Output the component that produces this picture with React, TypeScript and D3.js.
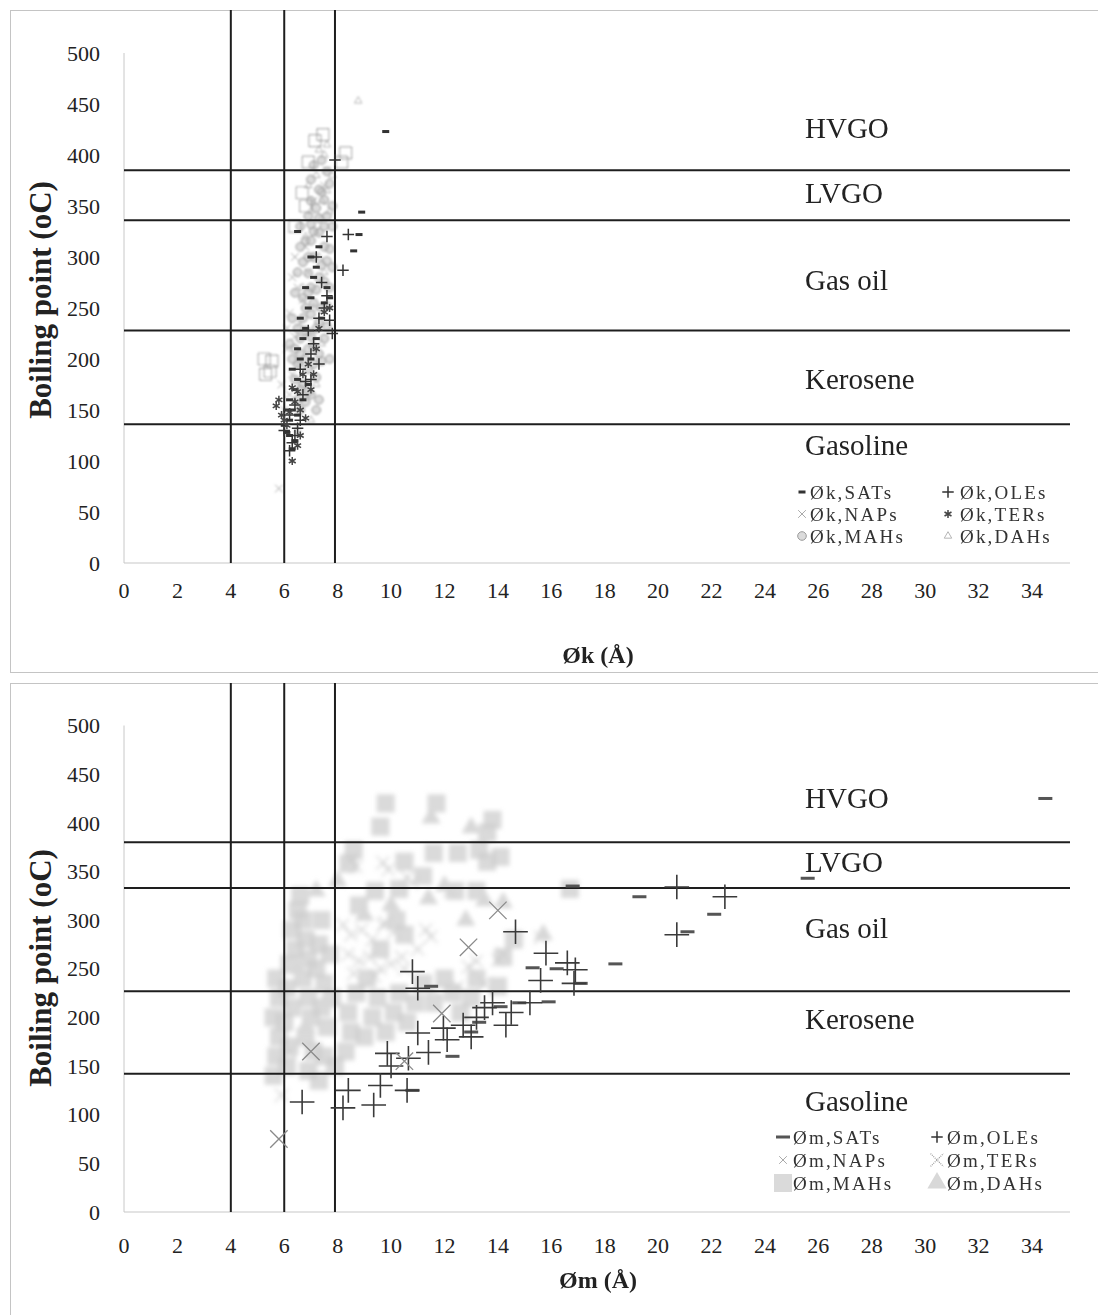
import React from "react";
import * as d3 from "d3";

type Pt = [number, number];
type Kind =
  | "dashS" | "plusS" | "timesS" | "asterS" | "circleS" | "triS" | "boxS"
  | "dashL" | "plusL" | "timesL" | "dotX" | "squareF" | "triF";

// ---------- shared axis values ----------
const xTickValues = [0, 2, 4, 6, 8, 10, 12, 14, 16, 18, 20, 22, 24, 26, 28, 30, 32, 34];
const yTickValues = [0, 50, 100, 150, 200, 250, 300, 350, 400, 450, 500];
const zoneNames = ["HVGO", "LVGO", "Gas oil", "Kerosene", "Gasoline"];
const diameterGuides = [4, 6, 7.9];

// ---------- Øk panel (kinetic diameter) ----------
const okZoneBounds = [385, 336, 228, 136];
const okZoneLabelY = [427, 363, 278, 181, 116];

const okSATs: Pt[] = [
  [6.0, 135], [6.1, 128], [6.2, 140], [6.3, 150], [6.2, 160], [6.4, 170], [6.5, 180], [6.3, 190],
  [6.6, 200], [6.5, 210], [6.7, 220], [6.8, 230], [6.6, 240], [6.9, 250], [7.0, 260], [6.8, 270],
  [7.1, 280], [7.2, 290], [7.0, 300], [7.3, 310], [6.5, 325], [7.4, 240], [7.5, 255], [7.2, 220],
  [7.0, 200], [6.9, 175], [6.7, 160], [6.5, 145], [6.4, 120], [6.3, 112], [8.6, 306], [8.8, 322],
  [8.9, 344], [9.8, 423], [7.6, 270], [7.7, 260], [6.1, 150], [6.2, 125],
];
const okOLEs: Pt[] = [
  [6.2, 110], [6.3, 118], [6.4, 125], [6.5, 132], [6.6, 140], [6.4, 155], [6.7, 165], [6.8, 178],
  [6.6, 190], [7.0, 205], [7.1, 215], [6.9, 228], [7.3, 240], [7.5, 250], [7.6, 262], [7.8, 225],
  [7.7, 238], [8.2, 287], [8.4, 322], [7.4, 275], [7.2, 300], [7.9, 395], [6.2, 145], [6.0, 130],
  [7.6, 320], [7.0, 180], [7.3, 195],
];
const okNAPs: Pt[] = [
  [5.8, 73], [6.0, 150], [6.2, 165], [5.9, 175], [6.3, 185], [6.5, 198], [6.1, 210], [6.4, 222],
  [6.6, 235], [6.2, 245], [6.7, 258], [6.5, 270], [6.9, 285], [7.0, 298], [6.8, 310], [7.2, 325],
  [7.4, 340], [7.1, 355], [7.5, 370], [6.4, 300], [6.3, 280], [7.6, 385], [6.1, 230],
];
const okTERs: Pt[] = [
  [5.7, 154], [5.8, 160], [5.9, 145], [6.0, 140], [6.1, 135], [6.2, 148], [6.4, 158], [6.5, 168],
  [6.6, 150], [6.3, 172], [6.7, 185], [6.9, 195], [7.0, 170], [6.8, 142], [6.5, 115], [6.3, 100],
  [6.6, 125], [7.1, 185], [7.3, 230], [7.5, 246], [7.7, 250], [7.2, 210],
];
const okMAHs: Pt[] = [
  [6.6, 150], [6.8, 158], [7.0, 165], [6.7, 175], [7.2, 182], [6.9, 190], [7.4, 198], [6.6, 205],
  [7.1, 212], [7.5, 220], [6.8, 228], [7.3, 236], [7.0, 244], [7.6, 252], [6.7, 260], [7.2, 268],
  [7.5, 276], [6.9, 284], [7.4, 292], [7.1, 300], [7.7, 308], [6.8, 316], [7.3, 324], [7.0, 332],
  [7.6, 340], [7.2, 348], [7.5, 356], [7.4, 364], [7.7, 372], [6.5, 285], [6.6, 310], [6.9, 340],
  [7.8, 330], [7.8, 290], [6.7, 240], [7.7, 200], [7.3, 160], [6.5, 195], [7.0, 376], [7.5, 310],
  [6.4, 265], [6.3, 240], [6.2, 215], [6.4, 180], [7.6, 232], [6.6, 330], [7.1, 255], [6.9, 210],
  [6.5, 230], [6.8, 250], [7.0, 270], [7.3, 280], [7.6, 296], [6.7, 295], [7.0, 316], [7.3, 338],
  [7.0, 355], [7.3, 366], [7.6, 384], [7.1, 390], [6.9, 300], [7.4, 250], [7.7, 270], [7.2, 230],
  [6.9, 265], [7.1, 325], [7.5, 330], [6.4, 210], [6.6, 220], [7.0, 222], [7.3, 205], [6.8, 200],
  [7.1, 195], [6.6, 170], [6.9, 168], [7.2, 150], [6.5, 160], [6.3, 200], [7.8, 350], [7.4, 395],
];
// wider MAHs molecules plotted with the open box symbol
const okMAHsBox: Pt[] = [
  [6.9, 393], [7.15, 414], [7.45, 420], [8.3, 402], [8.15, 393], [6.67, 363], [6.4, 330],
  [5.47, 188], [5.54, 198], [5.3, 185], [5.25, 200], [6.8, 350],
];
const okDAHs: Pt[] = [
  [8.77, 453], [7.5, 400], [7.2, 380], [6.9, 370], [7.4, 355], [7.0, 345], [7.6, 365], [6.8, 320],
  [7.3, 300], [6.7, 270], [7.5, 285], [7.1, 250], [6.9, 225], [7.4, 215], [6.6, 195], [7.2, 175],
  [6.8, 162], [7.0, 140], [6.5, 130], [7.7, 345], [7.8, 380], [7.6, 410], [7.3, 405],
];

// ---------- Øm panel (minimum diameter) ----------
const omZoneBounds = [380, 333, 227, 142];
const omZoneLabelY = [426, 360, 292, 198, 114];

const omSATs: Pt[] = [
  [19.3, 324], [22.1, 306], [21.1, 288], [18.4, 255], [16.2, 250], [17.1, 235], [15.9, 216],
  [14.1, 211], [13.0, 185], [14.8, 215], [12.3, 160], [10.8, 125], [34.5, 425], [25.6, 343],
  [16.8, 335], [11.5, 232], [13.3, 195], [15.3, 251],
];
const omOLEs: Pt[] = [
  [6.67, 113], [8.2, 107], [8.4, 125], [9.35, 110], [9.6, 130], [9.86, 163], [10.0, 150],
  [10.65, 158], [10.6, 125], [11.0, 184], [11.4, 164], [11.96, 189], [12.1, 177], [12.7, 192],
  [13.2, 200], [13.0, 180], [13.5, 210], [13.8, 215], [14.3, 192], [14.5, 205], [14.66, 288],
  [15.6, 238], [15.8, 266], [16.6, 256], [16.85, 235], [16.9, 249], [20.7, 334], [20.7, 285],
  [22.5, 324], [10.8, 247], [11.0, 230], [15.2, 215],
];
const omNAPs: Pt[] = [
  [5.8, 75], [12.9, 272], [11.9, 204], [14.0, 310], [10.5, 155], [7.0, 165],
];
const omTERs: Pt[] = [
  [8.2, 295], [8.5, 285], [8.9, 290], [9.3, 280], [9.7, 295], [10.1, 288], [8.4, 265], [8.8, 258],
  [9.2, 262], [9.6, 250], [10.0, 255], [10.4, 262], [8.6, 245], [9.4, 242], [8.5, 362], [8.7, 355],
  [9.7, 359], [9.9, 352], [10.6, 344], [10.8, 338], [9.8, 297], [11.3, 290], [11.5, 283],
  [12.9, 252], [13.2, 258], [14.0, 259], [14.2, 265], [12.5, 232], [11.6, 228], [13.5, 235],
  [10.5, 250], [12.2, 330], [15.6, 282], [6.2, 165], [5.9, 120], [11.0, 270],
];
const omMAHs: Pt[] = [
  [5.6, 140], [5.7, 160], [5.8, 180], [5.6, 200], [5.8, 220], [5.7, 240], [6.1, 150], [6.2, 170],
  [6.0, 195], [6.3, 210], [6.1, 230], [6.2, 255], [6.4, 270], [6.3, 290], [6.5, 310], [6.6, 325],
  [6.7, 300], [6.8, 280], [6.9, 260], [6.7, 240], [6.9, 220], [7.0, 200], [6.8, 180], [7.1, 165],
  [6.9, 145], [7.3, 135], [7.2, 250], [7.3, 275], [7.4, 300], [7.5, 235], [7.4, 210], [7.6, 190],
  [7.5, 160], [7.8, 220], [7.7, 265], [7.9, 150],
  [8.3, 165], [8.5, 185], [8.4, 205], [8.7, 225], [9.0, 180], [9.3, 200], [9.5, 220], [9.1, 240],
  [9.8, 185], [10.1, 205], [10.3, 225], [10.6, 195], [10.9, 215], [11.2, 235], [11.6, 215],
  [12.0, 240], [12.3, 225], [9.6, 270], [10.2, 300], [10.5, 285], [8.8, 315], [9.4, 330],
  [8.6, 372], [8.4, 358], [9.6, 396], [9.8, 420], [10.5, 360], [11.2, 345], [11.7, 420],
  [11.6, 369], [12.5, 369], [13.3, 372], [13.6, 390], [13.8, 403], [13.6, 360], [14.1, 365],
  [12.4, 330], [13.2, 330], [14.6, 280], [14.2, 262], [16.7, 332], [10.3, 332], [14.0, 232],
  [13.2, 240], [12.6, 205], [13.0, 220],
];
const omDAHs: Pt[] = [
  [15.7, 285], [14.2, 318], [13.5, 320], [12.0, 335], [7.2, 330], [6.5, 250], [9.0, 305],
  [11.4, 322], [10.0, 315], [8.0, 340], [12.8, 300], [6.8, 190], [7.5, 215], [13.0, 395], [11.5, 405],
];

// ---------- drawing helpers ----------
const FONT = "'Liberation Serif', 'Times New Roman', serif";
const LINE = "#1e1e1e";

const symPath = (t: d3.SymbolType, size: number) => d3.symbol(t, size)() as string;

function Mark({ kind, x, y }: { kind: Kind; x: number; y: number }) {
  const t = `translate(${x},${y})`;
  switch (kind) {
    case "dashS":
      return <rect x={x - 3.5} y={y - 1.5} width={7} height={3} fill="#333" />;
    case "plusS":
      return <path transform={t} d={symPath(d3.symbolPlus, 45)} fill="none" stroke="#333" strokeWidth={1.5} />;
    case "timesS":
      return <path transform={t} d={symPath(d3.symbolTimes, 40)} fill="none" stroke="#aaa" strokeWidth={1} />;
    case "asterS":
      return <path transform={t} d={symPath(d3.symbolAsterisk, 45)} fill="none" stroke="#444" strokeWidth={1.5} />;
    case "circleS":
      return <circle cx={x} cy={y} r={4.3} fill="#bdbdbd" fillOpacity={0.55} stroke="#9a9a9a" strokeWidth={1} />;
    case "triS":
      return <path transform={t} d={symPath(d3.symbolTriangle2, 40)} fill="none" stroke="#b5b5b5" strokeWidth={1} />;
    case "boxS":
      return <rect x={x - 6} y={y - 6} width={12} height={12} fill="none" stroke="#8d8d8d" strokeWidth={1.2} strokeDasharray="2 1" />;
    case "dashL":
      return <rect x={x - 7} y={y - 1.5} width={14} height={3} fill="#555" />;
    case "plusL":
      return <path transform={t} d={symPath(d3.symbolPlus, 200)} fill="none" stroke="#3a3a3a" strokeWidth={1.6} />;
    case "timesL":
      return <path transform={t} d={symPath(d3.symbolTimes, 200)} fill="none" stroke="#8a8a8a" strokeWidth={1.3} />;
    case "dotX":
      return <path transform={t} d={symPath(d3.symbolTimes, 110)} fill="none" stroke="#9a9a9a" strokeWidth={1.2} strokeDasharray="1 1" />;
    case "squareF":
      return <rect x={x - 9} y={y - 9} width={18} height={18} fill="#cdcdcd" fillOpacity={0.75} />;
    case "triF":
      return <path transform={t} d={symPath(d3.symbolTriangle, 160)} fill="#d8d8d8" />;
  }
  return null;
}

type SeriesDef = { name: string; pts: Pt[]; kind: Kind; legendKind?: Kind; layer: "soft" | "front" };

interface PanelCfg {
  prefix: string;
  frameTop: number;
  frameBottom: number;
  y0: number;
  y500: number;
  xLabelY: number;
  xTitleY: number;
  yTitleY: number;
  bounds: number[];
  zoneLabelY: number[];
  series: SeriesDef[];
  extra: { pts: Pt[]; kind: Kind }[];
  legendCols: [number, number, number, number];
  legendRows: number[];
  blur: number;
}

function Panel({ cfg }: { cfg: PanelCfg }) {
  const x = d3.scaleLinear().domain([0, 34]).range([124, 1032]);
  const y = d3.scaleLinear().domain([0, 500]).range([cfg.y0, cfg.y500]);
  const xRight = 1070;
  const fid = `blur-${cfg.prefix}`;

  const softSeries = cfg.series.filter((s) => s.layer === "soft");
  const frontSeries = cfg.series.filter((s) => s.layer === "front");

  return (
    <g>
      <defs>
        <filter id={fid} x="-10%" y="-10%" width="120%" height="120%">
          <feGaussianBlur stdDeviation={cfg.blur} />
        </filter>
      </defs>
      {/* panel frame */}
      <rect x={10.5} y={cfg.frameTop + 0.5} width={1100} height={cfg.frameBottom - cfg.frameTop}
        fill="none" stroke="#c4c4c4" strokeWidth={1} />

      {/* axis lines */}
      <line x1={x(0)} x2={x(0)} y1={y(500)} y2={y(0)} stroke="#c8c8c8" strokeWidth={1} />
      <line x1={x(0)} x2={xRight} y1={y(0)} y2={y(0)} stroke="#c8c8c8" strokeWidth={1.2} />

      {/* tick labels */}
      {yTickValues.map((v) => (
        <text key={`yt${v}`} x={100} y={y(v)} dy="0.35em" textAnchor="end" fontFamily={FONT}
          fontSize={22} fill="#222">{v}</text>
      ))}
      {xTickValues.map((v) => (
        <text key={`xt${v}`} x={x(v)} y={cfg.xLabelY} dy="0.35em" textAnchor="middle" fontFamily={FONT}
          fontSize={22} fill="#222">{v}</text>
      ))}

      {/* soft (grey) series */}
      <g filter={`url(#${fid})`}>
        {softSeries.map((s) => s.pts.map((p, i) => <Mark key={`${s.name}${i}`} kind={s.kind} x={x(p[0])} y={y(p[1])} />))}
        {cfg.extra.map((e, j) => e.pts.map((p, i) => <Mark key={`ex${j}-${i}`} kind={e.kind} x={x(p[0])} y={y(p[1])} />))}
      </g>

      {/* boiling range boundaries */}
      {cfg.bounds.map((b) => (
        <line key={`hb${b}`} x1={x(0)} x2={xRight} y1={y(b)} y2={y(b)} stroke={LINE} strokeWidth={2} />
      ))}
      {/* diameter guides */}
      {diameterGuides.map((g) => (
        <line key={`vg${g}`} x1={x(g)} x2={x(g)} y1={cfg.frameTop} y2={y(0)} stroke={LINE} strokeWidth={2} />
      ))}

      {/* dark series */}
      {frontSeries.map((s) => s.pts.map((p, i) => <Mark key={`${s.name}${i}`} kind={s.kind} x={x(p[0])} y={y(p[1])} />))}

      {/* boiling range names */}
      {zoneNames.map((n, i) => (
        <text key={n} x={805} y={y(cfg.zoneLabelY[i])} dy="0.35em" fontFamily={FONT} fontSize={29} fill="#222">{n}</text>
      ))}

      {/* legend */}
      {cfg.series.map((s, i) => {
        const col = i % 2;
        const row = Math.floor(i / 2);
        const mx = col === 0 ? cfg.legendCols[0] : cfg.legendCols[2];
        const tx = col === 0 ? cfg.legendCols[1] : cfg.legendCols[3];
        const ly = cfg.legendRows[row];
        return (
          <g key={`lg${s.name}`}>
            <Mark kind={s.legendKind ?? s.kind} x={mx} y={ly} />
            <text x={tx} y={ly} dy="0.35em" fontFamily={FONT} fontSize={19} letterSpacing={2.2} fill="#333">{s.name}</text>
          </g>
        );
      })}

      {/* axis titles */}
      <text x={598} y={cfg.xTitleY} dy="0.35em" textAnchor="middle" fontFamily={FONT} fontWeight="bold"
        fontSize={24} fill="#222">{cfg.prefix === "k" ? "Øk (Å)" : "Øm (Å)"}</text>
      <text transform={`translate(40,${cfg.yTitleY}) rotate(-90)`} dy="0.35em" textAnchor="middle"
        fontFamily={FONT} fontWeight="bold" fontSize={31} fill="#222">Boiling point (oC)</text>
    </g>
  );
}

const okPanel: PanelCfg = {
  prefix: "k",
  frameTop: 10,
  frameBottom: 672,
  y0: 563,
  y500: 53,
  xLabelY: 590,
  xTitleY: 655,
  yTitleY: 300,
  bounds: okZoneBounds,
  zoneLabelY: okZoneLabelY,
  series: [
    { name: "Øk,SATs", pts: okSATs, kind: "dashS", layer: "front" },
    { name: "Øk,OLEs", pts: okOLEs, kind: "plusS", layer: "front" },
    { name: "Øk,NAPs", pts: okNAPs, kind: "timesS", layer: "soft" },
    { name: "Øk,TERs", pts: okTERs, kind: "asterS", layer: "front" },
    { name: "Øk,MAHs", pts: okMAHs, kind: "circleS", layer: "soft" },
    { name: "Øk,DAHs", pts: okDAHs, kind: "triS", layer: "soft" },
  ],
  extra: [{ pts: okMAHsBox, kind: "boxS" }],
  legendCols: [802, 810, 948, 960],
  legendRows: [492, 514, 536],
  blur: 0.8,
};

const omPanel: PanelCfg = {
  prefix: "m",
  frameTop: 683,
  frameBottom: 1330,
  y0: 1212,
  y500: 725.5,
  xLabelY: 1245,
  xTitleY: 1280,
  yTitleY: 968,
  bounds: omZoneBounds,
  zoneLabelY: omZoneLabelY,
  series: [
    { name: "Øm,SATs", pts: omSATs, kind: "dashL", layer: "front" },
    { name: "Øm,OLEs", pts: omOLEs, kind: "plusL", legendKind: "plusS", layer: "front" },
    { name: "Øm,NAPs", pts: omNAPs, kind: "timesL", legendKind: "timesS", layer: "front" },
    { name: "Øm,TERs", pts: omTERs, kind: "dotX", layer: "soft" },
    { name: "Øm,MAHs", pts: omMAHs, kind: "squareF", layer: "soft" },
    { name: "Øm,DAHs", pts: omDAHs, kind: "triF", layer: "soft" },
  ],
  extra: [],
  legendCols: [783, 793, 937, 947],
  legendRows: [1137, 1160, 1183],
  blur: 2,
};

export default function App() {
  return (
    <svg width={1098} height={1315} viewBox="0 0 1098 1315"
      style={{ position: "absolute", left: 0, top: 0, background: "#fff" }}>
      <rect width={1098} height={1315} fill="#fff" />
      <Panel cfg={okPanel} />
      <Panel cfg={omPanel} />
    </svg>
  );
}
